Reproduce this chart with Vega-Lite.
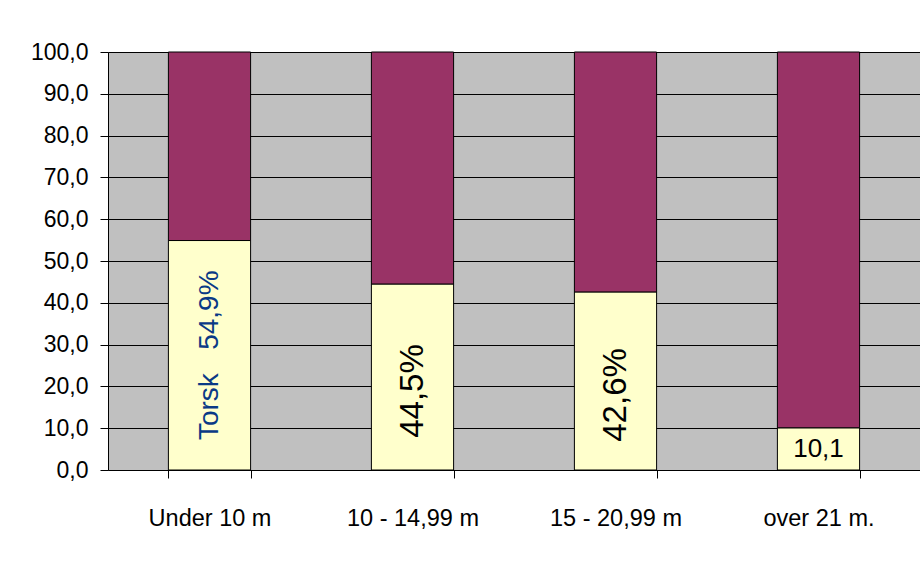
{
  "$schema": "https://vega.github.io/schema/vega-lite/v6.json",
  "autosize": {"type": "none"},
  "width": 812,
  "height": 418,
  "padding": {"left": 108, "top": 52, "right": 0, "bottom": 95},
  "background": "white",
  "config": {
    "view": {"fill": "#C0C0C0", "stroke": null},
    "font": "Liberation Sans"
  },
  "data": {
    "values": [
      {"cat": "Under 10 m", "art": "Torsk", "value": 54.9},
      {"cat": "Under 10 m", "art": "Andre", "value": 45.1},
      {"cat": "10 - 14,99 m", "art": "Torsk", "value": 44.5},
      {"cat": "10 - 14,99 m", "art": "Andre", "value": 55.5},
      {"cat": "15 - 20,99 m", "art": "Torsk", "value": 42.6},
      {"cat": "15 - 20,99 m", "art": "Andre", "value": 57.4},
      {"cat": "over 21 m.", "art": "Torsk", "value": 10.1},
      {"cat": "over 21 m.", "art": "Andre", "value": 89.9}
    ]
  },
  "transform": [
    {"calculate": "datum.value / 2", "as": "mid"},
    {"calculate": "replace(format(datum.value, '.1f'), '.', ',')", "as": "txt"},
    {"calculate": "datum.txt + '%'", "as": "pct"}
  ],
  "encoding": {
    "x": {
      "field": "cat",
      "type": "nominal",
      "sort": null,
      "scale": {"paddingInner": 0.595, "paddingOuter": 0.2975},
      "axis": {
        "title": null,
        "labelAngle": 0,
        "labelFontSize": 23.5,
        "labelColor": "black",
        "labelPadding": 28,
        "tickBand": "extent",
        "tickSize": 8,
        "tickColor": "black",
        "domainColor": "black",
        "domainWidth": 1,
        "grid": false
      }
    }
  },
  "layer": [
    {
      "mark": {"type": "bar", "stroke": "black", "strokeWidth": 1},
      "encoding": {
        "y": {
          "field": "value",
          "type": "quantitative",
          "stack": "zero",
          "scale": {"domain": [0, 100], "nice": false},
          "axis": {
            "title": null,
            "values": [0, 10, 20, 30, 40, 50, 60, 70, 80, 90, 100],
            "labelExpr": "replace(format(datum.value, '.1f'), '.', ',')",
            "labelFontSize": 23,
            "labelColor": "black",
            "labelPadding": 12,
            "tickSize": 8,
            "tickColor": "black",
            "domainColor": "black",
            "grid": true,
            "gridColor": "black",
            "gridOpacity": 1,
            "gridWidth": 1
          }
        },
        "color": {
          "field": "art",
          "type": "nominal",
          "sort": ["Torsk", "Andre"],
          "scale": {"domain": ["Torsk", "Andre"], "range": ["#FFFFCC", "#993366"]},
          "legend": null
        },
        "order": {"field": "art", "sort": "descending"}
      }
    },
    {
      "transform": [{"filter": "datum.art === 'Torsk' && datum.cat === 'Under 10 m'"}],
      "mark": {"type": "text", "angle": 270, "fontSize": 28, "color": "#0A3A86", "align": "center", "baseline": "middle"},
      "encoding": {
        "y": {"field": "mid", "type": "quantitative"},
        "text": {"value": "Torsk\u00a0\u00a0\u00a054,9%"}
      }
    },
    {
      "transform": [{"filter": "datum.art === 'Torsk' && (datum.cat === '10 - 14,99 m' || datum.cat === '15 - 20,99 m')"}],
      "mark": {"type": "text", "angle": 270, "fontSize": 33, "color": "black", "align": "center", "baseline": "middle", "dx": -14},
      "encoding": {
        "y": {"field": "mid", "type": "quantitative"},
        "text": {"field": "pct", "type": "nominal"}
      }
    },
    {
      "transform": [{"filter": "datum.art === 'Torsk' && datum.cat === 'over 21 m.'"}],
      "mark": {"type": "text", "fontSize": 26, "color": "black", "align": "center", "baseline": "middle"},
      "encoding": {
        "y": {"field": "mid", "type": "quantitative"},
        "text": {"field": "txt", "type": "nominal"}
      }
    }
  ]
}
